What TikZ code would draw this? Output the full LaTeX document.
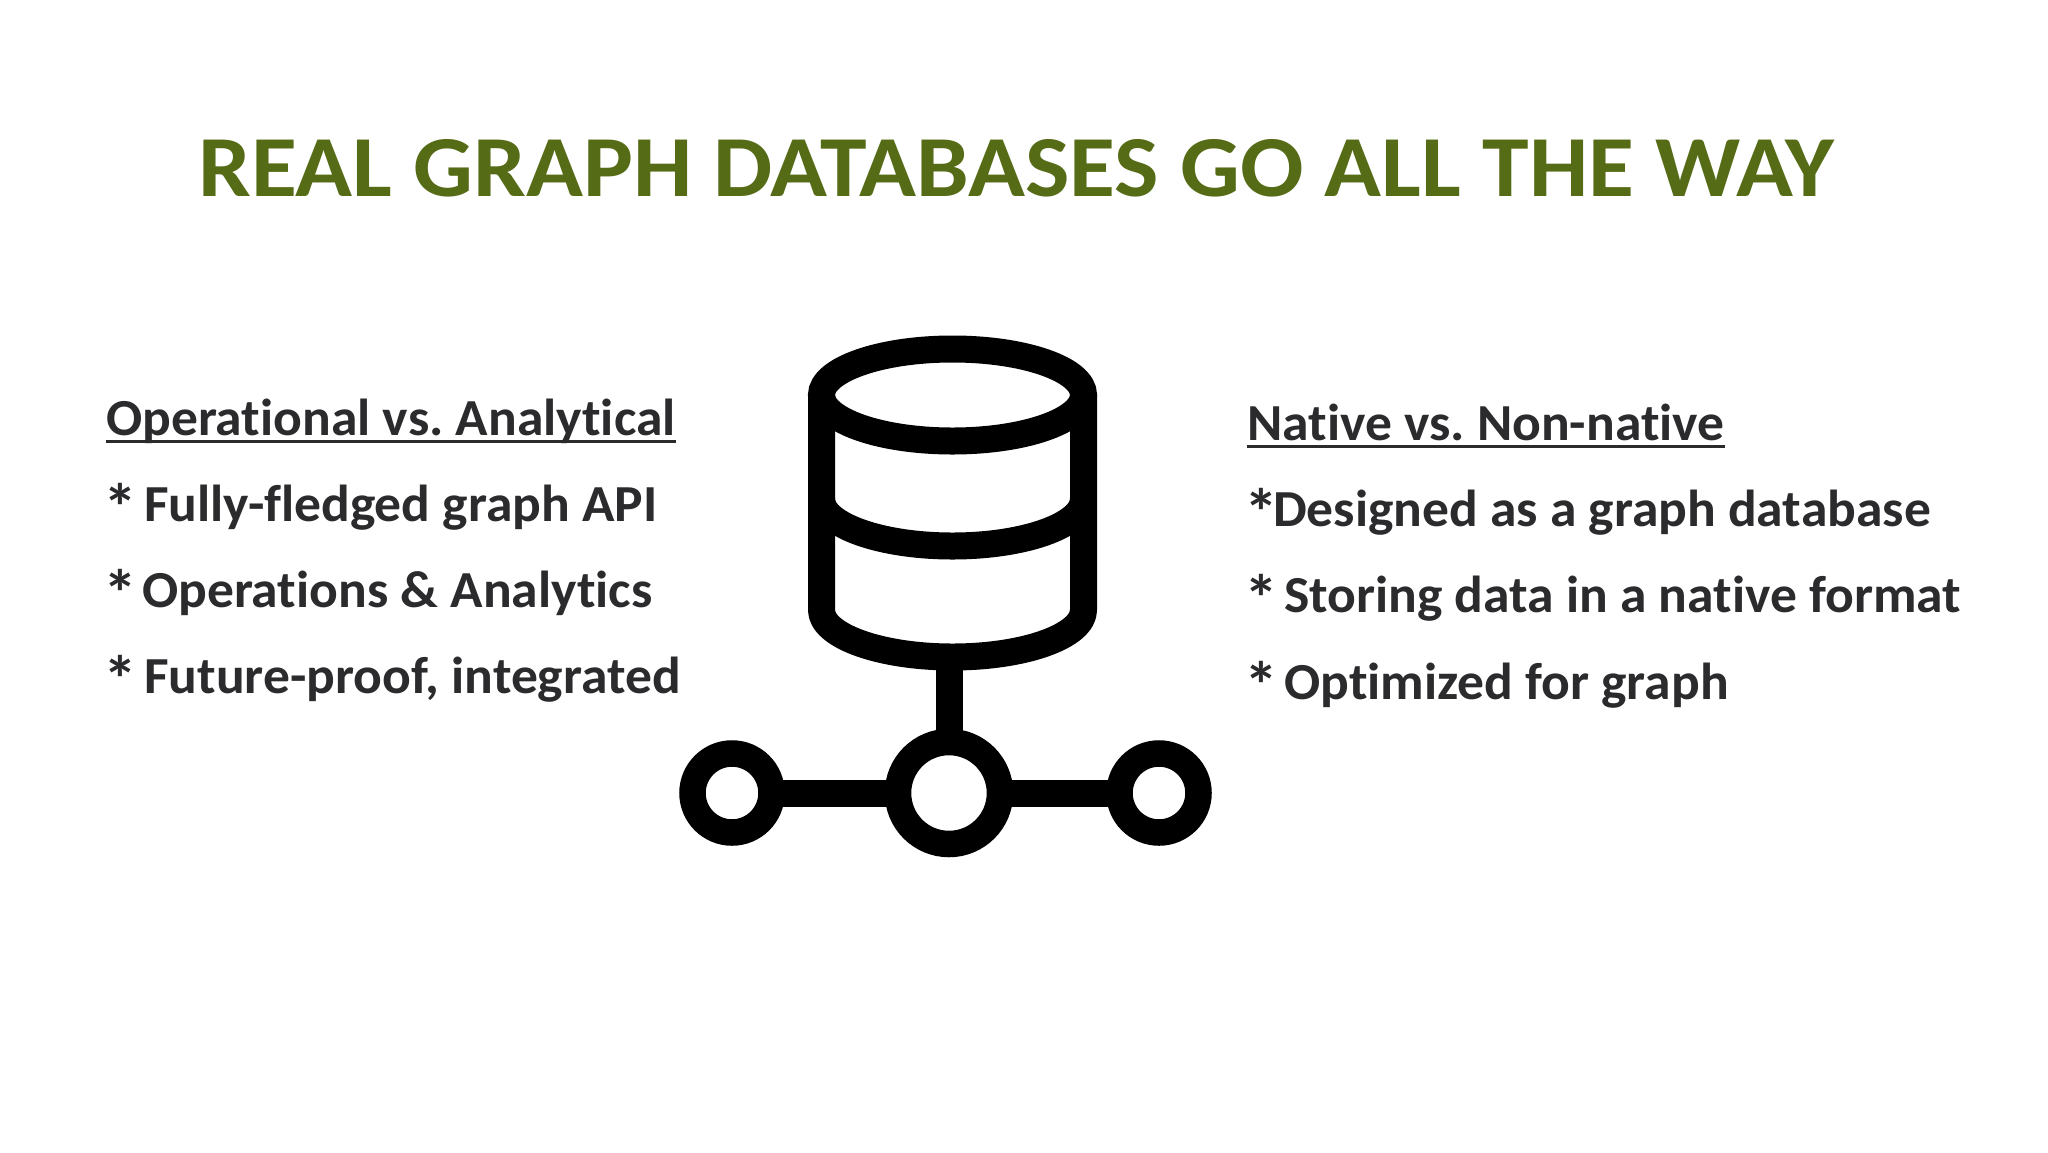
\documentclass[tikz,border=0pt]{standalone}
\usepackage{fontspec}
\setmainfont[Ligatures=NoCommon]{Carlito}
\newfontfamily\titlefont[FakeStretch=1.08,Ligatures=NoCommon]{Carlito}
\newfontfamily\bodyfont[FakeStretch=1.03,Ligatures=NoCommon]{Carlito}
\definecolor{titlegreen}{HTML}{556B16}
\definecolor{bodyink}{HTML}{2B2B2E}
\newcommand{\starmark}[1]{\makebox[#1][l]{\hspace{-3pt}\raisebox{-9pt}{\fontsize{66}{60}\selectfont *}}}
\tikzset{
  x=1pt,y=-1pt,
  titletext/.style={font=\titlefont\fontsize{87}{96}\selectfont\bfseries,text=titlegreen,inner sep=0pt,anchor=base west},
  bodytext/.style={font=\bodyfont\fontsize{52}{60}\selectfont\bfseries\frenchspacing,text=bodyink,inner sep=0pt,anchor=base west},
  rule/.style={draw=bodyink,line width=3pt},
  icon/.style={draw=black,line width=27pt},
  ring/.style={circle,draw=black,fill=white,line width=26.5pt,inner sep=0pt,outer sep=0pt},
}
\begin{document}
\begin{tikzpicture}
\useasboundingbox[fill=white] (0,0) rectangle (2048,1152);
\node[titletext] (title) at (198,196) {REAL GRAPH DATABASES GO ALL THE WAY};

\node[bodytext] (lh) at (106,435) {Operational vs. Analytical};
\node[bodytext] (l1) at (106,521) {\starmark{38pt}Fully-fledged graph API};
\node[bodytext] (l2) at (106,607) {\starmark{36pt}Operations \& Analytics};
\node[bodytext] (l3) at (106,693) {\starmark{38pt}Future-proof, integrated};
\draw[rule] ([yshift=-6pt]lh.base west) -- ([yshift=-6pt]lh.base east);

\node[bodytext] (rh) at (1247,440) {Native vs. Non-native};
\node[bodytext] (r1) at (1247,526) {\starmark{26pt}Designed as a graph database};
\node[bodytext] (r2) at (1247,612) {\starmark{37pt}Storing data in a native format};
\node[bodytext] (r3) at (1247,699) {\starmark{37pt}Optimized for graph};
\draw[rule] ([yshift=-6pt]rh.base west) -- ([yshift=-6pt]rh.base east);

% database cylinder
\draw[icon,line join=round] (821.5,395) -- (821.5,610) arc[start angle=180,end angle=360,x radius=131,y radius=-47] -- (1083.5,395);
\draw[icon] (952.5,395) ellipse[x radius=131,y radius=46];
\draw[icon] (821.5,499) arc[start angle=180,end angle=360,x radius=131,y radius=-47];

% network
\coordinate (dbfoot) at (949,657);
\node[ring,minimum size=102pt] (hub) at (949,793) {};
\node[ring,minimum size=79pt] (leftnode) at (732,793) {};
\node[ring,minimum size=79pt] (rightnode) at (1159,793) {};
\draw[icon] (dbfoot) -- (hub);
\draw[icon] (leftnode) -- (hub);
\draw[icon] (hub) -- (rightnode);
\end{tikzpicture}
\end{document}
